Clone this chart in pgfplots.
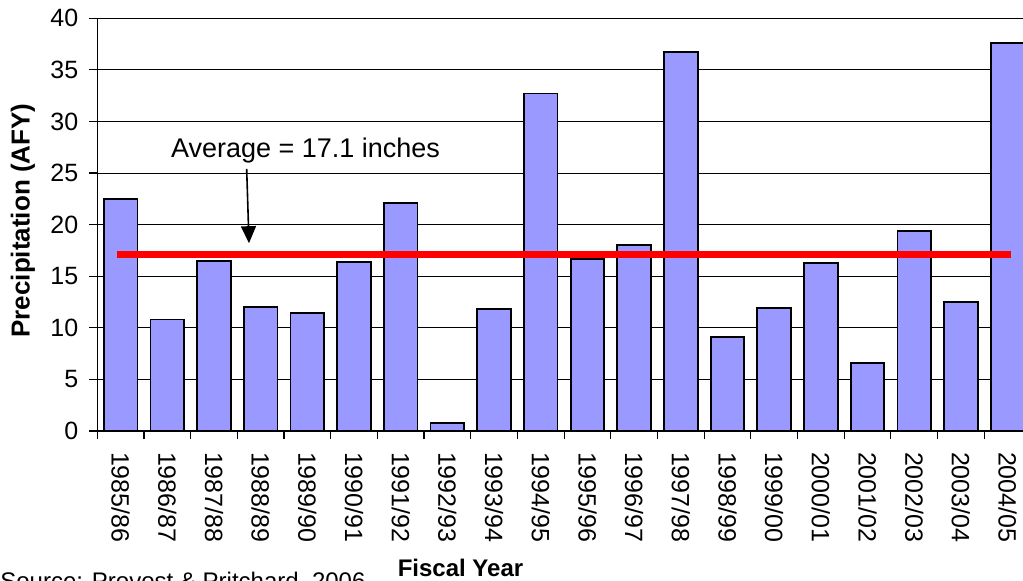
\documentclass[border=0pt]{standalone}
\usepackage{fontspec}
\setmainfont{Liberation Sans}
\usepackage{pgfplots}
\pgfplotsset{compat=1.18}
\usetikzlibrary{arrows.meta}
\definecolor{barblue}{HTML}{9999FF}
\begin{document}
\begin{tikzpicture}
\begin{axis}[
  scale only axis, width=466.8pt, height=206.4pt,
  xmin=-0.5, xmax=19.5, ymin=0, ymax=40,
  axis x line*=bottom, axis y line*=left,
  axis line style={-, black, line width=0.6pt},
  ytick={0,5,...,40},
  xtick={0,...,19},
  xticklabels={1985/86,1986/87,1987/88,1988/89,1989/90,1990/91,1991/92,1992/93,1993/94,1994/95,1995/96,1996/97,1997/98,1998/99,1999/00,2000/01,2001/02,2002/03,2003/04,2004/05},
  minor xtick={-0.5,0.5,...,19.5},
  major x tick style={draw=none},
  tick align=outside,
  major tick length=4pt, minor tick length=4pt,
  tick style={black, line width=0.6pt},
  ymajorgrids, grid style={black, line width=0.4pt},
  ticklabel style={font=\fontsize{12.5}{14}\selectfont},
  yticklabel style={xshift=-2pt},
  xticklabel style={yshift=-3pt, rotate=-90, anchor=west},
  /pgf/number format/assume math mode=true,
  xlabel={Fiscal Year},
  xlabel style={font=\bfseries\fontsize{12}{14}\selectfont, at={(axis description cs:0.389,-0.332)}, anchor=center},
  ylabel={Precipitation (AFY)},
  ylabel style={font=\bfseries\fontsize{13}{15}\selectfont, at={(axis description cs:-0.0796,0.51)}, anchor=center},
  clip=false,
]
\addplot[ybar, bar width=0.72, fill=barblue, draw=black, line width=0.9pt] coordinates {
  (0,22.5) (1,10.8) (2,16.5) (3,12.0) (4,11.4) (5,16.4) (6,22.1) (7,0.75) (8,11.8) (9,32.7)
  (10,16.7) (11,18.0) (12,36.7) (13,9.1) (14,11.9) (15,16.3) (16,6.6) (17,19.4) (18,12.5) (19,37.6)
};
\addplot[sharp plot, red, line width=3.5pt, line cap=rect, mark=none] coordinates {(0,17.1) (19,17.1)};
\draw[line width=0.8pt, -{Triangle[length=8.5pt,width=7.5pt]}] (axis cs:2.70,25.4) -- (axis cs:2.75,18.2);
\node[anchor=base west, inner sep=0pt, font=\fontsize{13.5}{16}\selectfont] at (axis cs:1.072,26.52) {Average = 17.1 inches};
\end{axis}
\pgfresetboundingbox
\useasboundingbox (-48.65pt,-74.5pt) rectangle (462.85pt,215.5pt);
\node[anchor=north west, inner sep=0pt, font=\fontsize{12}{14}\selectfont] at (-48.65pt,-70.5pt) {Source: Provost \& Pritchard, 2006};
\end{tikzpicture}
\end{document}
